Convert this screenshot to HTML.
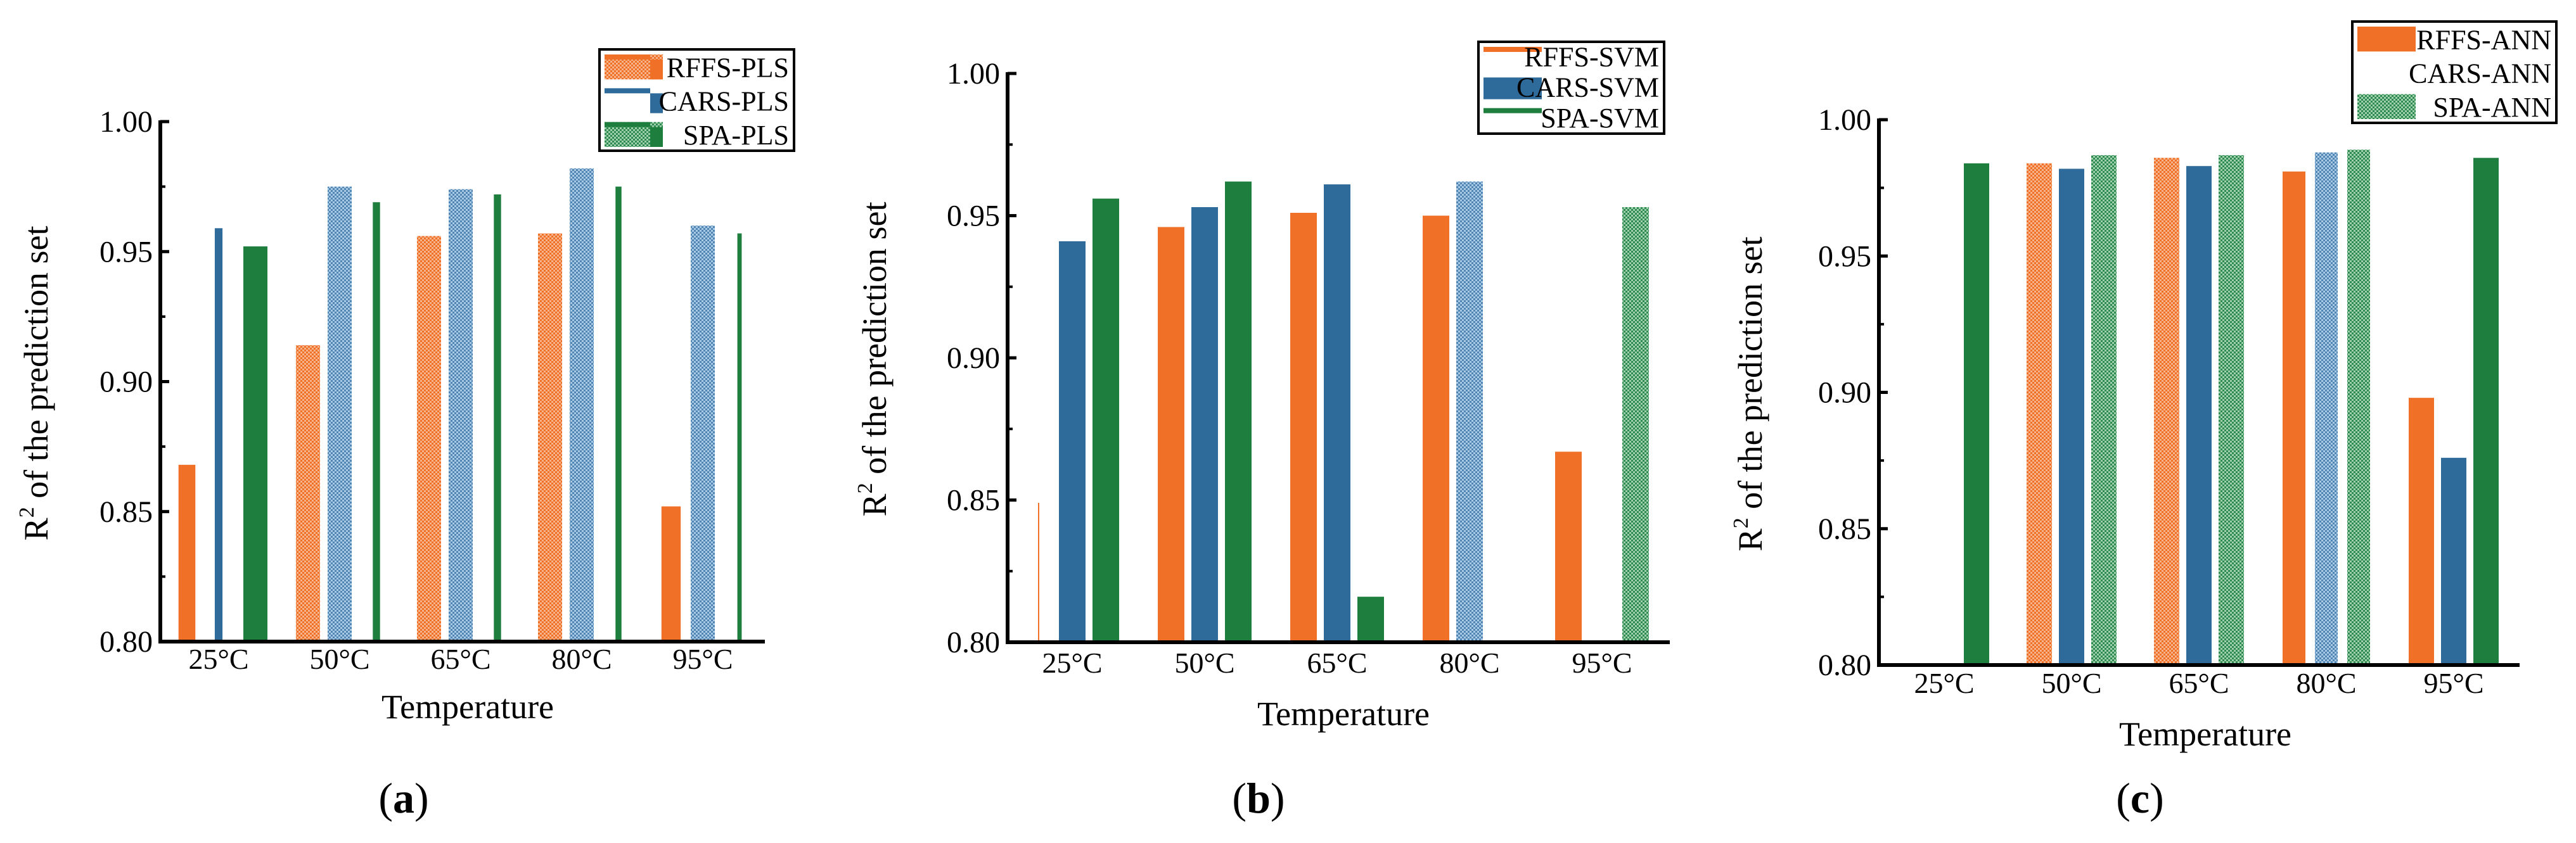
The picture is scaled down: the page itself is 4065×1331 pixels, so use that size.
<!DOCTYPE html>
<html><head><meta charset="utf-8">
<style>
html,body{margin:0;padding:0;background:#fff;}
svg, svg text{font-family:"Liberation Serif","DejaVu Serif",serif;}
</style></head>
<body>
<svg id="fig" width="4065" height="1326" viewBox="0 0 4065 1326" xmlns="http://www.w3.org/2000/svg" font-family="Liberation Serif, serif">
<defs>
<pattern id="hO" width="6" height="6" patternUnits="userSpaceOnUse"><rect width="6" height="6" fill="#F7B48A"/><rect width="3" height="3" fill="#F07028"/><rect x="3" y="3" width="3" height="3" fill="#F07028"/></pattern>
<pattern id="hB" width="6" height="6" patternUnits="userSpaceOnUse"><rect width="6" height="6" fill="#A9C8E2"/><rect width="3" height="3" fill="#4F86B5"/><rect x="3" y="3" width="3" height="3" fill="#4F86B5"/></pattern>
<pattern id="hG" width="6" height="6" patternUnits="userSpaceOnUse"><rect width="6" height="6" fill="#9FD0AE"/><rect width="3" height="3" fill="#2E8A4E"/><rect x="3" y="3" width="3" height="3" fill="#2E8A4E"/></pattern>
</defs>
</svg>
<script>
const categories = ["25°C","50°C","65°C","80°C","95°C"];
const yTicks = [0.80,0.85,0.90,0.95,1.00];
const yTickLabels = ["0.80","0.85","0.90","0.95","1.00"];
// panel a (PLS)
const plsRFFS = [0.868,0.914,0.956,0.957,0.852];
const plsCARS = [0.959,0.975,0.974,0.982,0.960];
const plsSPA  = [0.952,0.969,0.972,0.975,0.957];
// panel b (SVM)
const svmRFFS = [0.849,0.946,0.951,0.950,0.867];
const svmCARS = [0.941,0.953,0.961,0.962,null];
const svmSPA  = [0.956,0.962,0.816,null,0.953];
// panel c (ANN)
const annRFFS = [null,0.984,0.986,0.981,0.898];
const annCARS = [null,0.982,0.983,0.988,0.876];
const annSPA  = [0.984,0.987,0.987,0.989,0.986];

const NS="http://www.w3.org/2000/svg";
const svg=document.getElementById('fig');
function mk(tag,attrs,parent){const e=document.createElementNS(NS,tag);for(const k in attrs)e.setAttribute(k,attrs[k]);(parent||svg).appendChild(e);return e;}

const colors=["#F07028","#2E6A9A","#1E7E3E"];
const hatch=["url(#hO)","url(#hB)","url(#hG)"];
const FF="Liberation Serif, serif";

const panels=[
 {id:"a",x0:253,x1:1207,yTop:192,yBot:1013,cx0:345,dx:191,off:[-50,0,58],bw:38,
  series:[plsRFFS,plsCARS,plsSPA],names:["RFFS-PLS","CARS-PLS","SPA-PLS"],
  sty:[["s","h","h","h","s"],["s","h","h","h","h"],["s","s","s","s","s"]],
  wf:[[0.7,1,1,1,0.8],[0.32,1,1,1,1],[1,0.3,0.3,0.25,0.18]],
  leg:{x:946,y:78,w:307,h:160},yt:{x:75,y:605},tickY:1056,xt:{x:738,y:1134},lab:{x:637,y:1283}},
 {id:"b",x0:1590,x1:2635,yTop:116,yBot:1014,cx0:1692,dx:209,off:[-53,0,53],bw:42,
  series:[svmRFFS,svmCARS,svmSPA],names:["RFFS-SVM","CARS-SVM","SPA-SVM"],
  sty:[["t","s","s","s","s"],["s","s","s","h","s"],["s","s","s","s","h"]],
  wf:[[0.05,1,1,1,1],[1,1,1,1,1],[1,1,1,1,1]],
  leg:{x:2333,y:66,w:293,h:145},yt:{x:1398,y:567},tickY:1062,xt:{x:2120,y:1145},lab:{x:1986,y:1283}},
 {id:"c",x0:2965,x1:3976,yTop:189,yBot:1050,cx0:3068,dx:201,off:[-51,0,51],bw:40,
  series:[annRFFS,annCARS,annSPA],names:["RFFS-ANN","CARS-ANN","SPA-ANN"],
  sty:[["s","h","h","s","s"],["s","s","s","h","s"],["s","h","h","h","s"]],
  wf:[[1,1,1,0.9,1],[1,1,1,0.9,1],[1,1,1,0.9,1]],
  leg:{x:3712,y:34,w:322,h:160},yt:{x:2780,y:622},tickY:1094,xt:{x:3480,y:1177},lab:{x:3377,y:1283}}
];

panels.forEach(p=>{
  const g=mk('g',{"font-family":FF});
  
  
  const yScale=v=>p.yBot-(v-0.8)/0.2*(p.yBot-p.yTop);
  const xScale=i=>p.cx0+i*p.dx;
  p.series.forEach((arr,s)=>{
    arr.forEach((v,i)=>{
      if(v==null)return;
      const st=p.sty[s][i];
      const w=st==="t"?2:p.bw*p.wf[s][i];
      const x=xScale(i)+p.off[s]-w/2;
      const y=yScale(v);
      const r=mk('rect',{x:x,y:y,width:w,height:p.yBot-y,fill:st==="h"?hatch[s]:colors[s]},g);
      
      
    });
  });
  const ya=mk('line',{x1:p.x0,y1:p.yTop-2,x2:p.x0,y2:p.yBot+3,stroke:"#000","stroke-width":6},g);
  
  
  const xa=mk('line',{x1:p.x0-3,y1:p.yBot,x2:p.x1,y2:p.yBot,stroke:"#000","stroke-width":6},g);
  
  
  yTicks.forEach((t,k)=>{
    const y=yScale(t);
    mk('line',{x1:p.x0,y1:y,x2:p.x0+14,y2:y,stroke:"#000","stroke-width":5},g);
    if(k<yTicks.length-1){const ym=yScale(t+0.025);mk('line',{x1:p.x0,y1:ym,x2:p.x0+8,y2:ym,stroke:"#000","stroke-width":4},g);}
    const tl=mk('text',{x:p.x0-12,y:y+16,"text-anchor":"end","font-size":48,"font-family":FF},g);
    tl.textContent=yTickLabels[k];
    
    
  });
  categories.forEach((c,i)=>{
    const tl=mk('text',{x:xScale(i),y:p.tickY,"text-anchor":"middle","font-size":46,"font-family":FF},g);
    tl.textContent=c;
    
    
  });
  const yt=mk('text',{x:p.yt.x,y:p.yt.y,"text-anchor":"middle","font-size":54,"font-family":FF,transform:`rotate(-90 ${p.yt.x} ${p.yt.y})`},g);
  yt.innerHTML='R<tspan font-size="34" dy="-22">2</tspan><tspan dy="22"> of the prediction set</tspan>';
  
  
  const xt=mk('text',{x:p.xt.x,y:p.xt.y,"text-anchor":"middle","font-size":54,"font-family":FF},g);
  xt.textContent="Temperature";
  
  
  const lb=mk('text',{x:p.lab.x,y:p.lab.y,"text-anchor":"middle","font-size":68,"font-family":FF},g);
  lb.innerHTML='(<tspan font-weight="bold">'+p.id+'</tspan>)';
  
  
  const L=p.leg;
  const lg=mk('g',{},g);
  
  
  mk('rect',{x:L.x,y:L.y,width:L.w,height:L.h,fill:"#fff",stroke:"#000","stroke-width":4},lg);
  const rh=L.h/3;
  p.names.forEach((n,s)=>{
    const ry=L.y+6+s*rh;
    const sw=mk('rect',{x:L.x+8,y:ry+2,width:92,height:rh-14,fill:s===1&&p.id!=="b"?"none":(s===0&&p.id==="a"||s===2&&p.id!=="b"?hatch[s]:colors[s])},lg);
    if(p.id==="b"&&s!==1){sw.setAttribute('height',8);}
    if(p.id==="c"&&s===1){sw.setAttribute('fill','none');}
    if(p.id==="a"){mk('rect',{x:L.x+8,y:ry+2,width:72,height:8,fill:colors[s]},lg);mk('rect',{x:L.x+80,y:ry+10,width:20,height:rh-22,fill:colors[s]},lg);}
    
    
    const t=mk('text',{x:L.x+L.w-8,y:ry+rh-16,"text-anchor":"end","font-size":44,"font-family":FF},lg);
    t.textContent=n;
    
    
  });
});
</script>
</body></html>
